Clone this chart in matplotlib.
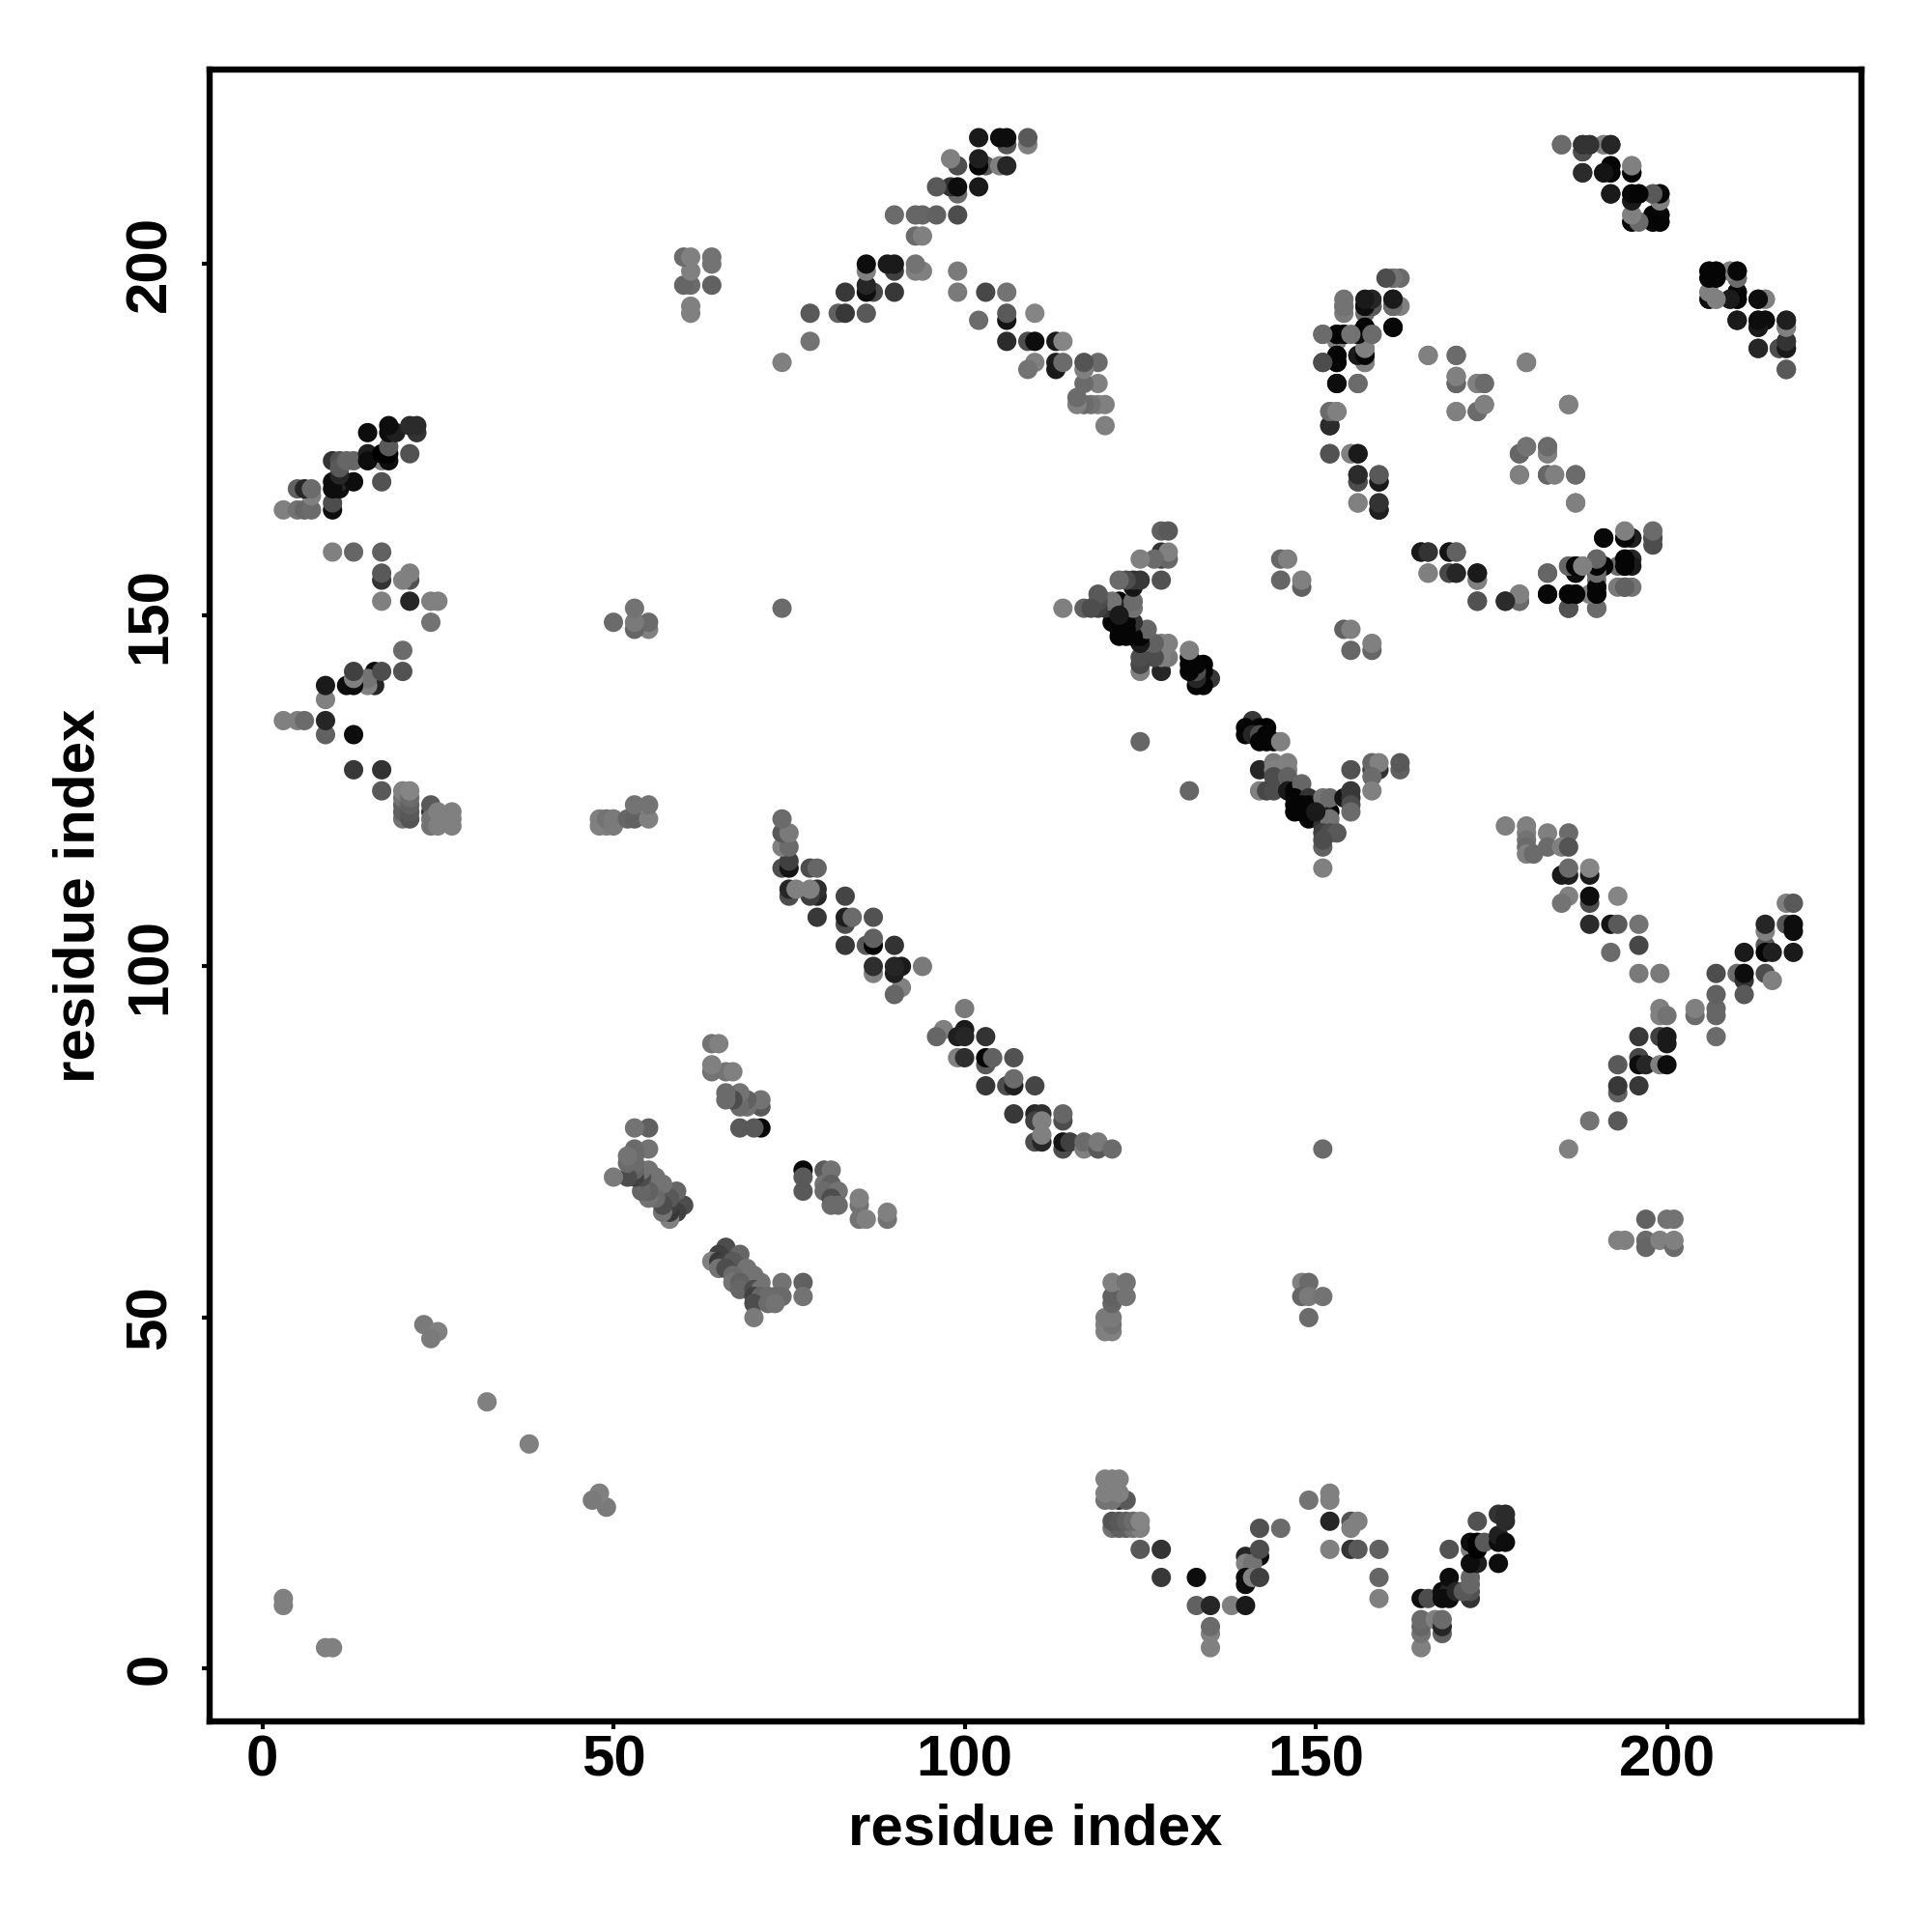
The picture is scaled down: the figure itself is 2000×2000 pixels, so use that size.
import matplotlib
matplotlib.use("Agg")
import matplotlib.pyplot as plt

# contacts as (residue i, residue j, grey level); the map is symmetric so each pair is drawn twice
bottom_w = [
    (120, 24, .45), (122, 24, .2), (123, 24, .35), (121, 24, .45), (120, 25, .5), (122, 25, .5),
    (120, 27, .5), (121, 27, .5), (122, 27, .5),
    (121, 20, .45), (122, 20, .38), (123, 20, .38), (124, 20, .45), (125, 20, .5),
    (121, 21, .33), (122, 21, .35), (123, 21, .38), (124, 21, .42), (125, 21, .52),
    (125, 17, .35), (128, 17, .2), (128, 13, .22), (133, 13, .05),
    (133, 9, .38), (135, 9, .15), (138, 9, .5), (140, 9, .1),
    (135, 3, .5), (135, 5, .5), (135, 6, .42),
    (142, 20, .32), (145, 20, .42), (140, 16, .15), (142, 16, .05), (140, 15, .5), (141, 15, .45),
    (142, 17, .3), (140, 13, .05), (140, 12, .05), (141, 13, .5), (142, 13, .25),
    (149, 24, .45), (152, 25, .5), (152, 24, .5),
    (152, 21, .15), (155, 21, .32), (155, 20, .5), (156, 21, .5),
    (152, 17, .5), (155, 17, .2), (156, 17, .35), (159, 17, .38), (159, 13, .4), (159, 10, .5),
    (165, 10, .05), (166, 10, .3), (165, 3, .5), (165, 5, .45), (165, 6, .4), (165, 7, .42),
    (167, 7, .5), (168, 5, .38), (168, 6, .15), (168, 7, .42),
    (168, 11, .05), (169, 11, .15), (168, 10, .05), (169, 10, .05), (169, 13, .05), (170, 11, .15),
    (172, 10, .2), (172, 11, .32), (171, 11, .35), (172, 12, .4), (172, 13, .4),
    (169, 17, .32), (172, 17, .5), (172, 18, .05), (173, 15, .12), (172, 15, .05),
    (173, 17, .0), (173, 18, .0), (174, 18, .35), (173, 21, .32),
    (176, 15, .05), (176, 18, .05), (176, 19, .12), (176, 22, .2),
    (177, 18, .05), (177, 21, .17), (177, 22, .17),
]

mid_cluster = [
    (141, 135, .22), (140, 134, .02), (142, 134, .02), (143, 134, .0), (140, 133, .02), (141, 133, .15),
    (142, 133, .3), (143, 133, .02), (142, 132, .02), (143, 132, .02), (144, 132, .02), (145, 132, .5),
    (142, 128, .15), (144, 129, .48), (146, 129, .5), (144, 128, .5), (146, 128, .5),
    (144, 127, .3), (146, 127, .38), (142, 125, .5), (143, 125, .28), (144, 125, .3),
    (146, 125, .1), (147, 125, .02), (148, 126, .4), (147, 124, .02), (149, 124, .2),
    (147, 123, .02), (148, 123, .02), (149, 123, .02), (147, 122, .02), (149, 122, .02), (149, 121, .02),
    (152, 122, .02), (151, 122, .15), (151, 121, .1), (151, 120, .2), (152, 120, .4), (152, 121, .45),
    (151, 119, .25), (152, 119, .3), (153, 119, .35), (151, 117, .38), (151, 114, .5),
    (151, 124, .45), (152, 124, .42), (154, 124, .08), (155, 124, .2), (155, 125, .22), (155, 123, .3),
    (155, 122, .42), (155, 128, .32),
    (158, 128, .25), (158, 129, .4), (159, 128, .2), (159, 129, .5), (158, 127, .42), (158, 125, .5),
    (162, 128, .38), (162, 129, .35),
    (148, 122, .02), (150, 122, .1), (151, 118, .3),
    (132, 125, .4), (154, 148, .38), (155, 148, .5), (155, 145, .4), (158, 145, .4), (158, 146, .5),
]

right_band = [
    (177, 120, .5), (180, 120, .5), (180, 119, .5), (183, 119, .5), (186, 119, .42),
    (180, 118, .45), (180, 117, .42), (183, 117, .42), (185, 117, .5), (186, 117, .33),
    (180, 116, .5), (181, 116, .42), (186, 113, .12), (185, 113, .1), (186, 114, .42),
    (189, 113, .1), (189, 114, .52), (186, 110, .5), (185, 109, .45), (189, 109, .3), (189, 110, .05),
    (193, 110, .52), (189, 106, .17), (192, 106, .08), (193, 106, .35), (196, 106, .45),
    (196, 103, .28), (192, 102, .42), (196, 99, .48), (199, 99, .48),
    (204, 93, .42), (204, 94, .5), (207, 93, .4), (207, 94, .4), (207, 96, .38), (207, 90, .42),
    (199, 93, .5), (199, 94, .5), (200, 93, .45),
    (196, 90, .22), (199, 90, .25), (200, 89, .1), (200, 90, .1),
    (196, 87, .28), (193, 86, .35), (196, 86, .05), (197, 86, .15), (199, 86, .5), (200, 86, .05),
    (193, 82, .38), (193, 83, .22), (196, 83, .22), (189, 78, .45), (193, 78, .35), (186, 74, .5),
    (207, 99, .3), (210, 99, .42), (211, 98, .2), (211, 99, .05), (211, 96, .35), (214, 99, .3), (215, 98, .5),
    (211, 102, .1), (214, 103, .35), (214, 102, .02), (215, 102, .12), (218, 102, .1),
    (214, 105, .5), (214, 106, .15), (217, 106, .33), (218, 105, .05), (218, 106, .05),
    (217, 109, .5), (218, 109, .35),
]

upper_loop = [
    (161, 198, .3), (162, 198, .42), (161, 195, .12), (154, 193, .48), (154, 194, .38),
    (157, 193, .42), (157, 194, .02), (158, 194, .02), (161, 194, .02), (162, 194, .5),
    (161, 191, .03), (157, 191, .02), (151, 190, .42), (153, 189, .5), (153, 190, .02), (154, 190, .02),
    (156, 190, .42), (157, 190, .02), (158, 190, .4),
    (151, 186, .32), (153, 187, .02), (153, 186, .02), (156, 187, .05), (157, 186, .4), (157, 187, .02),
    (157, 188, .5), (153, 183, .03), (156, 183, .4),
    (152, 179, .42), (153, 179, .5), (152, 177, .17),
    (152, 173, .32), (155, 173, .5), (156, 173, .1),
    (156, 169, .28), (156, 170, .15), (159, 169, .08), (159, 170, .38),
    (156, 166, .5), (159, 165, .1), (159, 166, .2),
    (166, 187, .5), (170, 187, .42), (170, 183, .4), (170, 184, .5), (173, 183, .5), (174, 183, .42),
    (170, 179, .5), (173, 179, .4), (174, 180, .45), (180, 186, .5), (186, 180, .5),
    (179, 173, .42), (180, 174, .5), (183, 173, .5), (183, 174, .42),
    (179, 170, .5), (183, 170, .4), (184, 170, .5), (187, 170, .42), (187, 166, .5),
    (165, 159, .12), (166, 159, .2), (169, 159, .1), (170, 159, .35),
    (166, 156, .5), (169, 156, .3), (170, 156, .17), (173, 155, .5), (173, 156, .1),
    (173, 152, .32), (177, 152, .17), (179, 152, .42), (179, 153, .5),
    (183, 156, .42), (186, 157, .5), (190, 157, .4), (183, 153, .05), (186, 153, .02), (187, 153, .02),
    (190, 153, .02), (187, 156, .1), (187, 157, .02), (188, 157, .5), (190, 156, .05), (191, 157, .02),
    (191, 161, .03), (190, 158, .42), (186, 151, .3), (190, 151, .42), (190, 154, .02), (190, 155, .45),
    (194, 161, .42), (195, 161, .1), (198, 161, .45), (198, 160, .3),
    (194, 158, .35), (194, 157, .05), (195, 158, .15), (195, 157, .1), (194, 154, .45), (195, 154, .45),
]

top_right = [
    (185, 217, .35), (188, 216, .3), (188, 217, .1), (189, 217, .2), (191, 217, .5), (192, 217, .12),
    (192, 214, .05), (195, 214, .5), (188, 213, .15), (191, 213, .1), (192, 213, .05), (195, 213, .05),
    (192, 210, .1), (195, 210, .02), (196, 210, .02), (198, 210, .42), (195, 209, .1), (199, 209, .5), (199, 210, .03),
    (195, 206, .05), (195, 207, .5), (196, 206, .5), (198, 206, .02), (198, 207, .02), (199, 206, .02), (199, 207, .02),
    (206, 199, .02), (207, 199, .03), (209, 199, .5), (210, 199, .03), (206, 198, .02), (210, 198, .35),
    (206, 195, .03), (206, 196, .42), (207, 195, .5), (209, 195, .1), (210, 195, .03), (210, 196, .02),
    (213, 195, .02), (214, 195, .5), (210, 192, .1), (213, 192, .02), (214, 192, .02),
    (213, 191, .08), (217, 191, .5), (217, 192, .15),
    (213, 188, .17), (216, 188, .3), (217, 188, .2), (217, 189, .2), (217, 185, .42),
]

anti_band = [
    (100, 94, .48), (97, 91, .5), (100, 91, .1), (96, 90, .4), (99, 90, .12), (100, 90, .15), (103, 90, .2),
    (99, 87, .5), (100, 87, .18), (103, 86, .35), (103, 87, .02), (104, 87, .38), (107, 87, .32),
    (103, 83, .22), (106, 83, .3), (107, 83, .12), (107, 84, .42), (110, 83, .27),
    (107, 79, .22), (110, 79, .15), (111, 79, .18), (114, 78, .3), (114, 79, .4),
    (110, 78, .25), (111, 78, .5), (110, 75, .3), (111, 75, .15), (111, 76, .5),
    (114, 74, .3), (114, 75, .08), (115, 75, .25), (117, 74, .5), (117, 75, .42),
    (119, 74, .35), (119, 75, .48), (121, 74, .42),
]

lower_groups = [
    (77, 71, .03), (80, 71, .35), (81, 71, .45), (77, 70, .35), (77, 68, .35), (80, 69, .45), (81, 69, .38),
    (80, 68, .42), (82, 68, .45), (81, 67, .3), (81, 66, .42), (82, 66, .42), (85, 66, .45), (85, 67, .5),
    (85, 64, .45), (86, 64, .5), (89, 64, .45), (89, 65, .5),
    (66, 60, .3), (65, 59, .25), (68, 59, .4), (64, 58, .5), (65, 58, .22), (66, 58, .25), (67, 58, .35),
    (65, 57, .45), (66, 57, .3), (69, 57, .45), (67, 56, .42), (70, 56, .45),
    (67, 55, .45), (68, 55, .38), (71, 55, .45), (74, 55, .45), (77, 55, .38),
    (68, 54, .4), (70, 54, .3), (71, 54, .45), (70, 53, .25), (71, 53, .4), (72, 53, .42), (73, 53, .42),
    (74, 53, .42), (77, 53, .45), (70, 52, .3), (72, 52, .42), (73, 52, .45), (70, 50, .48),
]

sparse = [
    (120, 48, .5), (121, 48, .5), (120, 49, .5), (121, 49, .45), (120, 50, .48), (121, 50, .48),
    (121, 52, .4), (121, 53, .38), (123, 53, .45), (121, 55, .5), (123, 55, .45),
    (148, 55, .5), (149, 55, .42), (148, 53, .4), (149, 53, .48), (151, 53, .45), (149, 50, .42),
    (193, 61, .5), (194, 61, .5), (197, 61, .42), (197, 60, .4), (197, 64, .38), (199, 61, .5),
    (201, 60, .42), (201, 61, .5), (200, 64, .45), (201, 64, .45),
    (10, 3, .5), (9, 3, .5), (49, 23, .48), (48, 25, .5), (47, 24, .48),
    (38, 32, .5), (151, 74, .42),
]

contacts = bottom_w + mid_cluster + right_band + upper_loop + top_right + anti_band + lower_groups + sparse
res_i = [c[0] for c in contacts]
res_j = [c[1] for c in contacts]
greys = [str(c[2]) for c in contacts]

fig = plt.figure(figsize=(10, 10), dpi=200)
ax = fig.add_axes([217 / 2000, 1 - 1782 / 2000, 1710 / 2000, 1710 / 2000])
ax.scatter(res_i + res_j, res_j + res_i, s=52, c=greys + greys, linewidths=0)

ax.set_xlim(-7.5, 227.7)
ax.set_ylim(-7.5, 227.7)
ticks = [0, 50, 100, 150, 200]
font = {"family": "Liberation Sans", "weight": "bold", "size": 21.6}
ax.set_xticks(ticks)
ax.set_yticks(ticks)
ax.set_xticklabels(ticks, **font)
ax.set_yticklabels(ticks, rotation=90, va="center", **font)
ax.tick_params(length=3, width=1.5)
ax.tick_params(axis="x", pad=2)
ax.tick_params(axis="y", pad=9)
ax.set_xlabel("residue index", labelpad=5.5, **font)
ax.set_ylabel("residue index", labelpad=6.8, **font)
for s in ax.spines.values():
    s.set_linewidth(2.3)

fig.savefig("out.png", dpi=200)
